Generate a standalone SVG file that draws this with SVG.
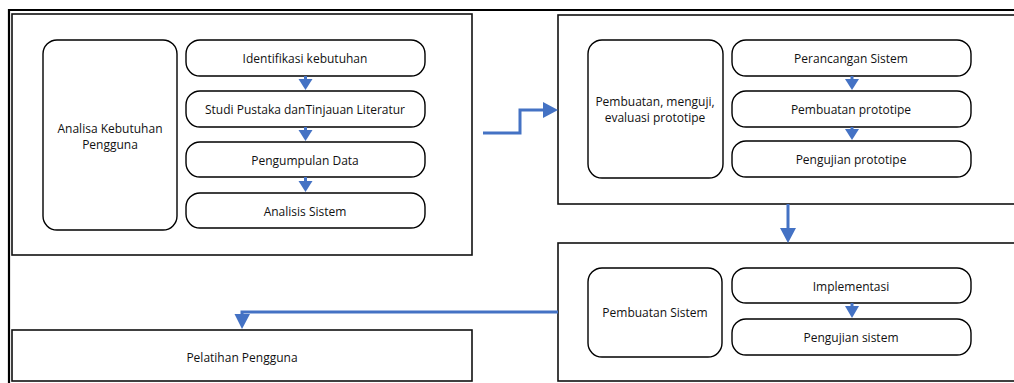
<svg xmlns="http://www.w3.org/2000/svg" width="1014" height="383" viewBox="0 0 1014 383">
<style>
  .frame{fill:none;stroke:#000;stroke-width:2.2}
  .cont{fill:#fff;stroke:#111;stroke-width:1.6}
  .rr{fill:#fff;stroke:#000;stroke-width:1.4}
  .t{font-family:"Open Sans","Liberation Sans",sans-serif;font-size:12px;fill:#111;text-anchor:middle;dominant-baseline:central}
  .c{fill:none;stroke:#4472C4;stroke-width:3}
  .h{fill:#4472C4}
</style>
<rect width="1014" height="383" fill="#fff"/>
<g id="frame">
  <path class="frame" d="M9 383 V10 H1014"/>
</g>
<g id="analisa">
  <rect class="cont" x="12" y="14" width="460" height="241"/>
  <rect class="rr" x="43" y="40" width="134" height="190" rx="14"/>
  <text class="t" x="110" y="128">Analisa Kebutuhan</text>
  <text class="t" x="110" y="144">Pengguna</text>
</g>
<g id="identifikasi"><rect class="rr" x="186" y="40" width="239" height="36" rx="14"/><text class="t" x="305" y="58">Identifikasi kebutuhan</text></g>
<g id="studi"><rect class="rr" x="186" y="91" width="239" height="36" rx="14"/><text class="t" x="305" y="109">Studi Pustaka danTinjauan Literatur</text></g>
<g id="pengumpulan"><rect class="rr" x="186" y="142" width="239" height="35" rx="14"/><text class="t" x="305" y="160">Pengumpulan Data</text></g>
<g id="analisis"><rect class="rr" x="186" y="193" width="239" height="35" rx="14"/><text class="t" x="305" y="211">Analisis Sistem</text></g>

<g id="prototipe">
  <rect class="cont" x="558" y="15" width="470" height="189"/>
  <rect class="rr" x="588" y="40" width="135" height="138" rx="14"/>
  <text class="t" x="655" y="101">Pembuatan, menguji,</text>
  <text class="t" x="655" y="117">evaluasi prototipe</text>
</g>
<g id="perancangan"><rect class="rr" x="732" y="40" width="239" height="36" rx="14"/><text class="t" x="851" y="58">Perancangan Sistem</text></g>
<g id="pembuatan-prototipe"><rect class="rr" x="732" y="91" width="239" height="36" rx="14"/><text class="t" x="851" y="109">Pembuatan prototipe</text></g>
<g id="pengujian-prototipe"><rect class="rr" x="732" y="141" width="239" height="36" rx="14"/><text class="t" x="851" y="159">Pengujian prototipe</text></g>

<g id="pembuatan-sistem">
  <rect class="cont" x="558" y="243" width="470" height="138"/>
  <rect class="rr" x="588" y="268" width="134" height="89" rx="14"/>
  <text class="t" x="655" y="312">Pembuatan Sistem</text>
</g>
<g id="implementasi"><rect class="rr" x="732" y="268" width="239" height="35" rx="14"/><text class="t" x="851" y="286">Implementasi</text></g>
<g id="pengujian-sistem"><rect class="rr" x="732" y="319" width="239" height="36" rx="14"/><text class="t" x="851" y="337">Pengujian sistem</text></g>

<g id="pelatihan">
  <rect class="cont" x="12" y="330" width="460" height="51"/>
  <text class="t" x="242" y="357">Pelatihan Pengguna</text>
</g>

<g id="connectors">
  <path class="h" d="M298.5 79 H312.5 L305.5 90 Z"/>
  <rect class="h" x="304" y="76" width="3" height="4"/>
  <path class="h" d="M298.5 130 H312.5 L305.5 141 Z"/>
  <rect class="h" x="304" y="127" width="3" height="4"/>
  <path class="h" d="M298.5 181 H312.5 L305.5 192 Z"/>
  <rect class="h" x="304" y="177" width="3" height="5"/>
  <path class="h" d="M845 79 H859 L852 90 Z"/>
  <rect class="h" x="850.5" y="76" width="3" height="4"/>
  <path class="h" d="M845 129 H859 L852 140 Z"/>
  <rect class="h" x="850.5" y="127" width="3" height="3"/>
  <path class="h" d="M845 306 H859 L852 318 Z"/>
  <rect class="h" x="850.5" y="303" width="3" height="4"/>
  <path class="c" d="M483 133 H520 V110 H545"/>
  <path class="h" d="M543 102 L558 110 L543 118 Z"/>
  <path class="c" d="M788 204 V229"/>
  <path class="h" d="M780 228 H796 L788 243 Z"/>
  <path class="c" d="M558 312 H242 V316"/>
  <path class="h" d="M234.5 314 H250 L242 329 Z"/>
</g>
</svg>
